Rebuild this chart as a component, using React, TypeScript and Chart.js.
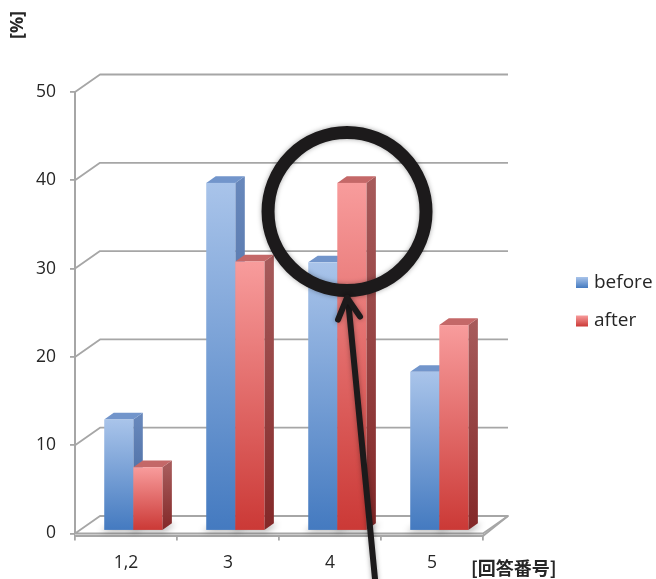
import React, { useEffect, useRef } from "react";
import { Chart, registerables } from "chart.js";

Chart.register(...registerables);

// Survey answers: share of respondents per answer number, before and after.
const categories = ["1,2", "3", "4", "5"];
const beforeValues = [12.6, 39.4, 30.4, 18.0];
const afterValues = [7.2, 30.5, 39.4, 23.3];
const seriesLabels = ["before", "after"];
const yTickValues = [0, 10, 20, 30, 40, 50];
const xTitle = "[回答番号]";
const yTitle = "[%]";
// The bar the callout ring points at (series index, category index).
const highlight = { series: 1, category: 2 };

// Oblique projection used for the walls, floor and bar extrusion.
const WALL = { dx: 25, dy: -17.5 };
const BAR_SHIFT = { dx: 7.3, dy: -2.7 };
const BAR_DEPTH = { dx: 9.5, dy: -6.7 };
const GRID_COLOR = "#a6a6a6";
const TEXT_COLOR = "#262626";
const FONT = "'Open Sans', 'Noto Sans', sans-serif";
const CJK_FONT = "'Noto Sans CJK JP', 'Noto Sans', sans-serif";

const palettes = [
  {
    frontTop: "#a9c4ea",
    frontBottom: "#447ac0",
    sideTop: "#6787bb",
    sideBottom: "#3b5e95",
    top: "#7295cb",
  },
  {
    frontTop: "#f89c9c",
    frontBottom: "#cb3936",
    sideTop: "#a65a5a",
    sideBottom: "#832828",
    top: "#c46868",
  },
];

function vGradient(ctx: CanvasRenderingContext2D, y0: number, y1: number, c0: string, c1: string) {
  const g = ctx.createLinearGradient(0, y0, 0, y1);
  g.addColorStop(0, c0);
  g.addColorStop(1, c1);
  return g;
}

const depthPlugin = {
  id: "depth3d",
  beforeDatasetsDraw(chart: any) {
    const { ctx, chartArea: ca, scales } = chart;
    const y = scales.y;
    ctx.save();
    // floor plate
    const b = ca.bottom;
    ctx.fillStyle = "#f3f3f3";
    ctx.beginPath();
    ctx.moveTo(ca.left, b);
    ctx.lineTo(ca.right, b);
    ctx.lineTo(ca.right, b + 2.5);
    ctx.lineTo(ca.left, b + 2.5);
    ctx.closePath();
    ctx.fill();
    ctx.fillStyle = "#ffffff";
    ctx.beginPath();
    ctx.moveTo(ca.left, b);
    ctx.lineTo(ca.left + WALL.dx, b + WALL.dy);
    ctx.lineTo(ca.right + WALL.dx, b + WALL.dy);
    ctx.lineTo(ca.right, b);
    ctx.closePath();
    ctx.fill();
    ctx.strokeStyle = GRID_COLOR;
    ctx.lineWidth = 1.8;
    ctx.lineJoin = "round";
    ctx.stroke();
    ctx.beginPath();
    ctx.moveTo(ca.left, b + 2.5);
    ctx.lineTo(ca.right, b + 2.5);
    ctx.lineTo(ca.right + WALL.dx, b + WALL.dy);
    ctx.stroke();

    // back-wall grid lines with their side-wall diagonals
    ctx.lineWidth = 1.8;
    yTickValues.forEach((v) => {
      if (v === yTickValues[0]) return;
      const py = y.getPixelForValue(v);
      ctx.beginPath();
      ctx.moveTo(ca.left, py);
      ctx.lineTo(ca.left + WALL.dx, py + WALL.dy);
      ctx.lineTo(ca.right + WALL.dx, py + WALL.dy);
      ctx.stroke();
    });
    ctx.restore();
  },
  afterDatasetsDraw(chart: any) {
    const { ctx } = chart;
    const metas = chart.data.datasets.map((_: any, i: number) => chart.getDatasetMeta(i));
    ctx.save();
    // soft floor shadows first
    categories.forEach((_, ci) => {
      metas.forEach((meta: any) => {
        const el = meta.data[ci];
        const p = el.getProps(["x", "base", "width"], true);
        const l = p.x - p.width / 2 + BAR_SHIFT.dx;
        const r = p.x + p.width / 2 + BAR_SHIFT.dx;
        const bt = p.base + BAR_SHIFT.dy;
        ctx.save();
        ctx.filter = "blur(3px)";
        ctx.fillStyle = "rgba(0,0,0,0.28)";
        ctx.beginPath();
        ctx.moveTo(l - 4, bt + 2);
        ctx.lineTo(r + 2, bt + 2);
        ctx.lineTo(r + BAR_DEPTH.dx + 4, bt + BAR_DEPTH.dy + 1);
        ctx.lineTo(l + BAR_DEPTH.dx, bt + BAR_DEPTH.dy);
        ctx.closePath();
        ctx.fill();
        ctx.restore();
      });
    });
    categories.forEach((_, ci) => {
      metas.forEach((meta: any, si: number) => {
        const pal = palettes[si];
        const el = meta.data[ci];
        const p = el.getProps(["x", "y", "base", "width"], true);
        const l = p.x - p.width / 2 + BAR_SHIFT.dx;
        const r = p.x + p.width / 2 + BAR_SHIFT.dx;
        const t = p.y + BAR_SHIFT.dy;
        const bt = p.base + BAR_SHIFT.dy;
        const { dx, dy } = BAR_DEPTH;
        // side face
        ctx.fillStyle = vGradient(ctx, t, bt, pal.sideTop, pal.sideBottom);
        ctx.beginPath();
        ctx.moveTo(r, t);
        ctx.lineTo(r + dx, t + dy);
        ctx.lineTo(r + dx, bt + dy);
        ctx.lineTo(r, bt);
        ctx.closePath();
        ctx.fill();
        // top face
        ctx.fillStyle = pal.top;
        ctx.beginPath();
        ctx.moveTo(l, t);
        ctx.lineTo(l + dx, t + dy);
        ctx.lineTo(r + dx, t + dy);
        ctx.lineTo(r, t);
        ctx.closePath();
        ctx.fill();
        // front face
        ctx.fillStyle = vGradient(ctx, t, bt, pal.frontTop, pal.frontBottom);
        ctx.fillRect(l, t, r - l, bt - t);
      });
    });
    ctx.restore();
  },
  afterDraw(chart: any) {
    const { ctx, chartArea: ca } = chart;
    ctx.save();
    // legend
    ctx.font = `19px ${FONT}`;
    ctx.textBaseline = "middle";
    ctx.textAlign = "left";
    chart.data.datasets.forEach((ds: any, i: number) => {
      const cy = 282.5 + i * 38.5;
      const pal = palettes[i];
      ctx.fillStyle = vGradient(ctx, cy - 5.5, cy + 5.5, pal.frontTop, pal.frontBottom);
      ctx.fillRect(576, cy - 5.5, 12, 11);
      ctx.fillStyle = TEXT_COLOR;
      ctx.fillText(ds.label, 594, cy);
    });
    // axis titles
    ctx.font = `bold 18px ${FONT}`;
    ctx.fillStyle = TEXT_COLOR;
    ctx.save();
    ctx.translate(18, 25);
    ctx.rotate(-Math.PI / 2);
    ctx.textAlign = "center";
    ctx.fillText(yTitle, 0, 0);
    ctx.restore();
    ctx.font = `bold 18px ${CJK_FONT}`;
    ctx.textAlign = "left";
    ctx.fillText(xTitle, ca.right - 12, 568);

    // callout ring and arrow on the highlighted bar
    const el = chart.getDatasetMeta(highlight.series).data[highlight.category];
    const p = el.getProps(["x", "y"], true);
    const cx = p.x + 2.5;
    const cy = p.y + 26;
    const R = 79;
    ctx.shadowColor = "rgba(0,0,0,0.35)";
    ctx.shadowBlur = 5;
    ctx.strokeStyle = "#1c1a1b";
    ctx.lineWidth = 13;
    ctx.beginPath();
    ctx.arc(cx, cy, R, 0, Math.PI * 2);
    ctx.stroke();
    const tipX = cx;
    const tipY = cy + R + 7;
    ctx.lineWidth = 6;
    ctx.lineCap = "round";
    ctx.lineJoin = "round";
    ctx.beginPath();
    ctx.moveTo(tipX + 30, 600);
    ctx.lineTo(tipX + 1, tipY + 2);
    ctx.stroke();
    ctx.beginPath();
    ctx.moveTo(tipX - 9, tipY + 22);
    ctx.lineTo(tipX, tipY);
    ctx.lineTo(tipX + 13, tipY + 19);
    ctx.stroke();
    ctx.restore();
  },
};

export default function App() {
  const canvasRef = useRef<HTMLCanvasElement | null>(null);

  useEffect(() => {
    if (!canvasRef.current) return;
    const chart = new Chart(canvasRef.current, {
      type: "bar",
      data: {
        labels: categories,
        datasets: [
          {
            label: seriesLabels[0],
            data: beforeValues,
            backgroundColor: "rgba(0,0,0,0)",
            borderWidth: 0,
            categoryPercentage: 0.57,
            barPercentage: 1,
          },
          {
            label: seriesLabels[1],
            data: afterValues,
            backgroundColor: "rgba(0,0,0,0)",
            borderWidth: 0,
            categoryPercentage: 0.57,
            barPercentage: 1,
          },
        ],
      },
      options: {
        animation: false,
        responsive: true,
        maintainAspectRatio: false,
        layout: { padding: { top: 92, right: 173, left: 0, bottom: 0 } },
        plugins: {
          legend: { display: false },
          tooltip: { enabled: false },
        },
        scales: {
          x: {
            grid: {
              offset: true,
              drawOnChartArea: false,
              drawTicks: true,
              tickLength: 7,
              color: GRID_COLOR,
              lineWidth: 1.8,
            },
            border: { display: false },
            ticks: {
              font: { family: FONT, size: 17.5 },
              color: TEXT_COLOR,
              padding: 12,
            },
            afterFit: (s: any) => {
              s.height = 45.5;
            },
          },
          y: {
            min: 0,
            max: 50,
            afterBuildTicks: (s: any) => {
              s.ticks = yTickValues.map((v) => ({ value: v }));
            },
            grid: {
              drawOnChartArea: false,
              tickLength: 5,
              color: GRID_COLOR,
              lineWidth: 1.8,
            },
            border: { display: true, color: GRID_COLOR, width: 2 },
            ticks: {
              font: { family: FONT, size: 17.5 },
              color: TEXT_COLOR,
              padding: 14,
            },
            afterFit: (s: any) => {
              s.width = 75;
            },
          },
        },
      },
      plugins: [depthPlugin],
    });
    return () => chart.destroy();
  }, []);

  return (
    <div style={{ position: "fixed", left: 0, top: 0, width: 656, height: 579, background: "#ffffff" }}>
      <canvas ref={canvasRef} />
    </div>
  );
}
